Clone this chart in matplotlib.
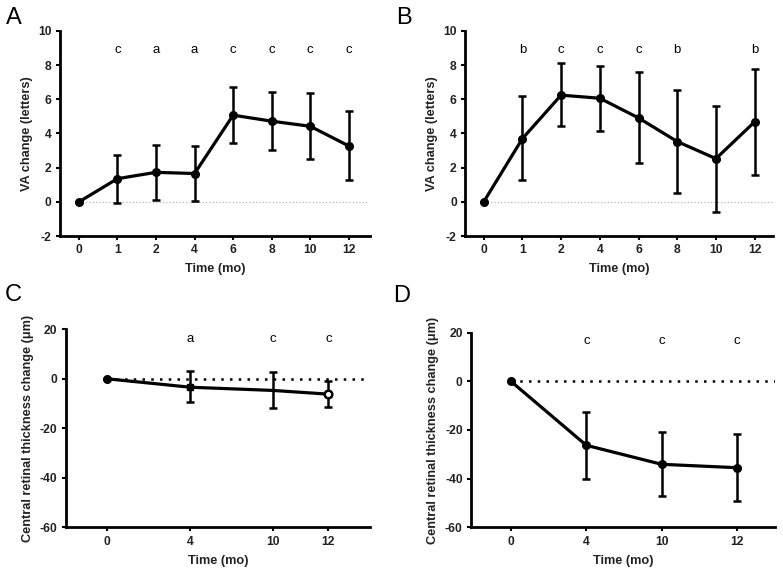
import matplotlib
matplotlib.use("Agg")
import matplotlib.pyplot as plt
import numpy as np

plt.rcParams['font.family'] = ['Liberation Sans', 'DejaVu Sans']
plt.rcParams['axes.unicode_minus'] = False

# Panel A
a_labels = ["0", "1", "2", "4", "6", "8", "10", "12"]
a_mean = [0, 1.36, 1.73, 1.66, 5.07, 4.72, 4.42, 3.27]
a_upper = [0, 2.77, 3.35, 3.27, 6.70, 6.41, 6.35, 5.30]
a_lower = [0, -0.04, 0.14, 0.08, 3.45, 3.04, 2.48, 1.31]
a_sig = ["", "c", "a", "a", "c", "c", "c", "c"]

# Panel B
b_labels = ["0", "1", "2", "4", "6", "8", "10", "12"]
b_mean = [0, 3.70, 6.24, 6.06, 4.91, 3.53, 2.53, 4.68]
b_upper = [0, 6.18, 8.13, 7.97, 7.60, 6.57, 5.63, 7.78]
b_lower = [0, 1.31, 4.41, 4.13, 2.30, 0.53, -0.57, 1.58]
b_sig = ["", "b", "c", "c", "c", "b", "", "b"]

# Panel C
c_labels = ["0", "4", "10", "12"]
c_pos = [0, 3, 6, 8]
c_mean = [0, -3.4, -4.7, -6.2]
c_upper = [0, 3.0, 2.6, -0.9]
c_lower = [0, -9.4, -11.8, -11.3]
c_sig = ["", "a", "c", "c"]

# Panel D
d_labels = ["0", "4", "10", "12"]
d_mean = [0, -26.3, -34.1, -35.5]
d_upper = [0, -12.5, -20.8, -21.8]
d_lower = [0, -40.0, -47.3, -49.0]
d_sig = ["", "c", "c", "c"]

fig = plt.figure(figsize=(7.83, 5.76), dpi=100)

TICK_FS = 8.7
LABEL_FS = 9.2

def style(ax):
    for s in ["top", "right"]:
        ax.spines[s].set_visible(False)
    for s in ["left", "bottom"]:
        ax.spines[s].set_linewidth(2.0)
    ax.tick_params(axis="both", direction="out", length=3, width=1.5,
                   labelsize=TICK_FS, colors="black", labelcolor="#222222", pad=3)
    for lab in ax.get_xticklabels() + ax.get_yticklabels():
        lab.set_fontweight("bold")

def draw(ax, x, mean, upper, lower, markers=None):
    x = np.asarray(x, float)
    mean = np.asarray(mean, float)
    yerr = np.vstack([mean - np.asarray(lower), np.asarray(upper) - mean])
    ax.errorbar(x, mean, yerr=yerr, fmt="none", ecolor="black", elinewidth=1.8,
                capsize=3.0, capthick=1.8, zorder=3)
    ax.plot(x, mean, color="black", lw=2.3, zorder=4)
    if markers is None:
        ax.plot(x, mean, "o", color="black", ms=5.5, zorder=5)
    else:
        for xi, yi, m in zip(x, mean, markers):
            if m == "o":
                ax.plot(xi, yi, "o", color="black", ms=5.5, zorder=5)
            elif m == "s":
                ax.plot(xi, yi, "s", color="black", ms=5, zorder=5)
            elif m == "open":
                ax.plot(xi, yi, "o", mfc="white", mec="black", mew=1.8, ms=5.5, zorder=5)

def sig(ax, x, letters, y):
    for xi, t in zip(x, letters):
        if t:
            ax.text(xi, y, t, ha="center", va="center", fontsize=9.5, color="black")

def labels(ax, ylabel):
    ax.set_xlabel("Time (mo)", fontsize=LABEL_FS, fontweight="bold", color="#222222", labelpad=5)
    ax.set_ylabel(ylabel, fontsize=LABEL_FS, fontweight="bold", color="#222222", labelpad=4)

# A
axA = fig.add_axes([0.0766, 0.590, 0.396, 0.3565])
xa = np.arange(len(a_labels))
axA.plot([0, 7.5], [0, 0], ls=(0, (1, 2)), color="#aaaaaa", lw=0.8, zorder=1)
draw(axA, xa, a_mean, a_upper, a_lower)
sig(axA, xa, a_sig, 8.9)
axA.set_xlim(-0.49, 7.55)
axA.set_ylim(-2, 10)
axA.set_xticks(xa)
axA.set_xticklabels(a_labels)
axA.set_yticks([-2, 0, 2, 4, 6, 8, 10])
labels(axA, "VA change (letters)")
style(axA)

# B
axB = fig.add_axes([0.594, 0.590, 0.393, 0.3565])
xb = np.arange(len(b_labels))
axB.plot([0, 7.5], [0, 0], ls=(0, (1, 2)), color="#aaaaaa", lw=0.8, zorder=1)
draw(axB, xb, b_mean, b_upper, b_lower)
sig(axB, xb, b_sig, 8.9)
axB.set_xlim(-0.48, 7.47)
axB.set_ylim(-2, 10)
axB.set_xticks(xb)
axB.set_xticklabels(b_labels)
axB.set_yticks([-2, 0, 2, 4, 6, 8, 10])
labels(axB, "VA change (letters)")
style(axB)

# C
axC = fig.add_axes([0.0839, 0.0845, 0.3886, 0.3438])
axC.plot([0, 9.5], [0, 0], ls=(0, (1, 2.5)), color="black", lw=1.8, zorder=1)
draw(axC, c_pos, c_mean, c_upper, c_lower, markers=["o", "s", None, "open"])
sig(axC, c_pos, c_sig, 16.0)
axC.set_xlim(-1.5, 9.5)
axC.set_ylim(-60, 20)
axC.set_xticks(c_pos)
axC.set_xticklabels(c_labels)
axC.set_yticks([-60, -40, -20, 0, 20])
labels(axC, "Central retinal thickness change (\u03bcm)")
style(axC)

# D
axD = fig.add_axes([0.6015, 0.0845, 0.388, 0.338])
xd = np.arange(len(d_labels))
axD.plot([0, 3.5], [0, 0], ls=(0, (1, 2.5)), color="black", lw=1.8, zorder=1)
draw(axD, xd, d_mean, d_upper, d_lower)
sig(axD, xd, d_sig, 16.6)
axD.set_xlim(-0.53, 3.5)
axD.set_ylim(-60, 20)
axD.set_xticks(xd)
axD.set_xticklabels(d_labels)
axD.set_yticks([-60, -40, -20, 0, 20])
labels(axD, "Central retinal thickness change (\u03bcm)")
style(axD)

# Panel letters
for t, x, y in [("A", 0.008, 0.988), ("B", 0.506, 0.988), ("C", 0.006, 0.507), ("D", 0.502, 0.505)]:
    fig.text(x, y, t, fontsize=17, ha="left", va="top", color="black")

fig.savefig("out.png", dpi=100)
